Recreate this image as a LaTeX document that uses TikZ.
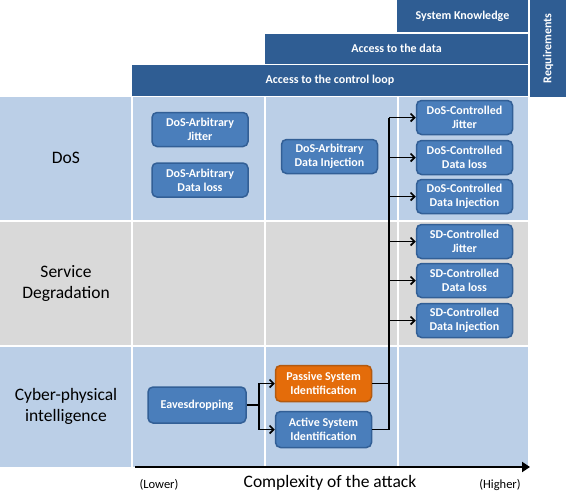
\documentclass[tikz,border=0pt]{standalone}
\usepackage{fontspec}
\setmainfont{Carlito}
\usetikzlibrary{arrows.meta}
\definecolor{hdr}{HTML}{2F5D93}
\definecolor{bgblue}{HTML}{BBCFE7}
\definecolor{bggray}{HTML}{D9D9D9}
\definecolor{nodeblue}{HTML}{4A7EBB}
\definecolor{nodeborder}{HTML}{325F96}
\definecolor{orangefill}{HTML}{E46C0A}
\definecolor{orangeborder}{HTML}{B35A10}
\tikzset{
  hdrbox/.style={fill=hdr, inner sep=0pt, text=white, font=\fontsize{12}{14}\selectfont\bfseries},
  attack/.style={draw=nodeborder, line width=1.5pt, fill=nodeblue, rounded corners=5pt,
    minimum width=96pt, minimum height=34pt, inner sep=0pt, align=center, text=white,
    font=\fontsize{12}{14}\selectfont\bfseries},
  orangeattack/.style={attack, draw=orangeborder, fill=orangefill},
  rowlabel/.style={align=center, font=\fontsize{17.5}{21}\selectfont},
  conn/.style={line width=1.6pt, black},
  arr/.style={conn, -{Straight Barb[length=4pt,width=8pt]}},
  axislabel/.style={font=\fontsize{12.5}{15}\selectfont}
}
\begin{document}
\begin{tikzpicture}[x=1pt,y=-1pt]
\useasboundingbox (0,0) rectangle (566,491);
% header bars
\node[hdrbox, minimum width=36pt, minimum height=97pt] (req) at (548,48.5) {};
\node[rotate=90, text=white, font=\fontsize{12}{14}\selectfont\bfseries] (reqtext) at (req.center) {Requirements};
\node[hdrbox, minimum width=131pt, minimum height=32pt] (sk) at (462.5,16) {System Knowledge};
\node[hdrbox, minimum width=263pt, minimum height=30pt] (ad) at (396.5,48.5) {Access to the data};
\node[hdrbox, minimum width=396pt, minimum height=31pt] (acl) at (330,80.5) {Access to the control loop};
% background cells
\foreach \xa/\xb in {0/131,133/264,266/397,399/528}{
  \fill[bgblue] (\xa,97) rectangle (\xb,220);
  \fill[bggray] (\xa,222) rectangle (\xb,345);
  \fill[bgblue] (\xa,347) rectangle (\xb,467);
}
% row labels
\node[rowlabel] (ldos) at (66,158) {DoS};
\node[rowlabel] (lsd) at (66,283) {Service\\Degradation};
\node[rowlabel] (lcpi) at (66,406) {Cyber-physical\\intelligence};
% attack nodes
\node[attack] (daj) at (200,129.5) {DoS-Arbitrary\\Jitter};
\node[attack] (dal) at (200,180) {DoS-Arbitrary\\Data loss};
\node[attack] (dai) at (329.5,156.5) {DoS-Arbitrary\\Data Injection};
\node[attack] (dcj) at (464.5,117.5) {DoS-Controlled\\Jitter};
\node[attack] (dcl) at (464.5,157.5) {DoS-Controlled\\Data loss};
\node[attack] (dci) at (464.5,196.5) {DoS-Controlled\\Data Injection};
\node[attack] (scj) at (464.5,241.5) {SD-Controlled\\Jitter};
\node[attack] (scl) at (464.5,280.5) {SD-Controlled\\Data loss};
\node[attack] (sci) at (464.5,320.5) {SD-Controlled\\Data Injection};
\node[attack, minimum width=98pt, minimum height=36pt] (eav) at (197,405) {Eavesdropping};
\node[orangeattack, minimum height=36pt] (psi) at (323.5,383.5) {Passive System\\Identification};
\node[attack, minimum height=36pt] (asi) at (323.5,429.5) {Active System\\Identification};
% connectors
\coordinate (vtop) at (389,117.5);
\coordinate (br) at (259,405);
\draw[conn] (vtop) -- (asi.east -| vtop);
\draw[arr] (vtop) -- (dcj.west);
\draw[arr] (vtop |- dcl.west) -- (dcl.west);
\draw[arr] (vtop |- dci.west) -- (dci.west);
\draw[arr] (vtop |- scj.west) -- (scj.west);
\draw[arr] (vtop |- scl.west) -- (scl.west);
\draw[arr] (vtop |- sci.west) -- (sci.west);
\draw[conn] (psi.east) -- (psi.east -| vtop);
\draw[conn] (asi.east) -- (asi.east -| vtop);
\draw[conn] (eav.east) -- (br);
\draw[arr] (br) |- (psi.west);
\draw[arr] (br) |- (asi.west);
% axis
\coordinate (axs) at (135,467);
\coordinate (axe) at (530,467);
\draw[line width=2.5pt, -{Triangle[length=8pt,width=10pt]}] (axs) -- (axe);
\node[axislabel] (lower) at (159,485) {(Lower)};
\node[font=\fontsize{17.5}{21}\selectfont] (cplx) at (330,483) {Complexity of the attack};
\node[axislabel] (higher) at (500,485) {(Higher)};
\end{tikzpicture}
\end{document}
